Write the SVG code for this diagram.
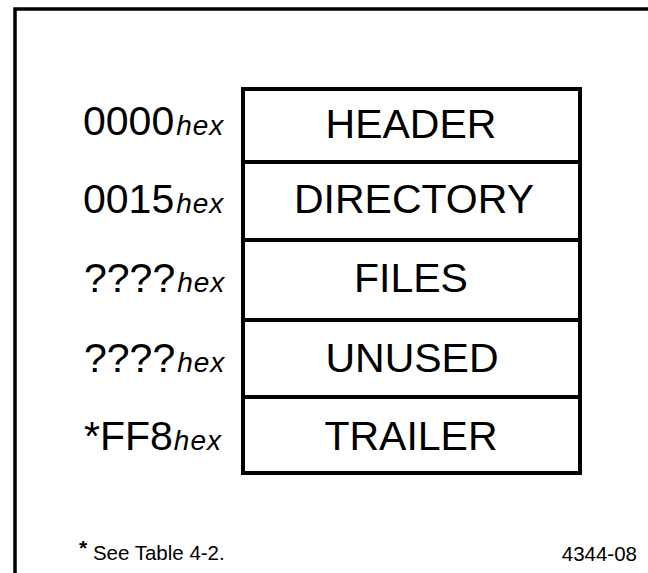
<svg xmlns="http://www.w3.org/2000/svg" width="648" height="573" viewBox="0 0 648 573">
<style>
.frame{fill:none;stroke:#000;stroke-width:3.5}
.cell{fill:#fff;stroke:#000;stroke-width:4}
.lbl{font-family:"Liberation Sans",Arial,sans-serif;font-size:41px;fill:#000;text-anchor:middle}
.addr{font-family:"Liberation Sans",Arial,sans-serif;font-size:41px;fill:#000}
.hex{font-style:italic;font-size:28px;letter-spacing:1px}
.note{font-family:"Liberation Sans",Arial,sans-serif;font-size:20.5px;fill:#000}
</style>
<rect width="648" height="573" fill="#fff"/>
<path class="frame" d="M15,573 V9 H648"/>
<g id="header">
<rect class="cell" x="243" y="89" width="337" height="73"/>
<text class="lbl" x="411" y="138">HEADER</text>
<text class="addr" x="83" y="135">0000<tspan class="hex" dx="2">hex</tspan></text>
</g>
<g id="directory">
<rect class="cell" x="243" y="162" width="337" height="78"/>
<text class="lbl" x="414" y="213">DIRECTORY</text>
<text class="addr" x="83" y="213">0015<tspan class="hex" dx="2">hex</tspan></text>
</g>
<g id="files">
<rect class="cell" x="243" y="240" width="337" height="80"/>
<text class="lbl" x="411" y="292">FILES</text>
<text class="addr" x="84" y="292">????<tspan class="hex" dx="2">hex</tspan></text>
</g>
<g id="unused">
<rect class="cell" x="243" y="320" width="337" height="77"/>
<text class="lbl" x="412" y="372">UNUSED</text>
<text class="addr" x="84" y="372">????<tspan class="hex" dx="2">hex</tspan></text>
</g>
<g id="trailer">
<rect class="cell" x="243" y="397" width="337" height="76"/>
<text class="lbl" x="411" y="450">TRAILER</text>
<text class="addr" x="84" y="450">*FF8<tspan class="hex" dx="1">hex</tspan></text>
</g>
<g id="connectors"></g>
<g id="footnote">
<text class="note" x="79" y="560"><tspan font-weight="bold" font-size="21" dy="-5">*</tspan><tspan dy="5"> See Table 4-2.</tspan></text>
<text class="note" x="637" y="561" text-anchor="end" font-size="18">4344-08</text>
</g>
</svg>
